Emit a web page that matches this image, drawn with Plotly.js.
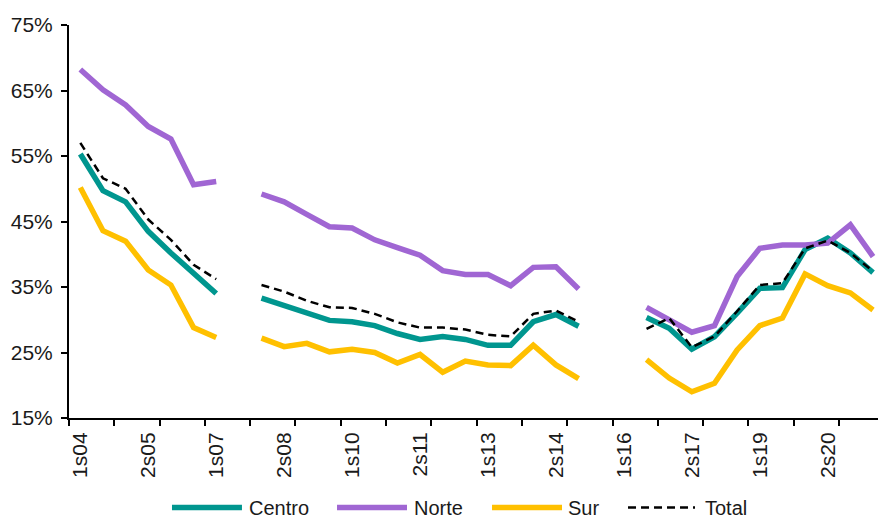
<!DOCTYPE html>
<html>
<head>
<meta charset="utf-8">
<script src="https://cdn.plot.ly/plotly-3.0.1.min.js"></script>
<style>
  html, body { margin: 0; padding: 0; background: #ffffff; }
  #chart { width: 878px; height: 519px; }
</style>
</head>
<body>
<div id="chart"></div>
<script>
const categories = ['1s04','2s04','1s05','2s05','1s06','2s06','1s07','2s07','1s08','2s08',
  '1s09','2s09','1s10','2s10','1s11','2s11','1s12','2s12','1s13','2s13',
  '1s14','2s14','1s15','2s15','1s16','2s16','1s17','2s17','1s18','2s18',
  '1s19','2s19','1s20','2s20','1s21','2s21'];

const tickLabels = ['1s04','2s05','1s07','2s08','1s10','2s11','1s13','2s14','1s16','2s17','1s19','2s20'];

const centro = [55.3, 49.7, 48.0, 43.5, 40.2, 37.0, 34.0, null, 33.3, 32.1,
  30.9, 29.9, 29.7, 29.1, 27.9, 27.0, 27.45, 27.0, 26.1, 26.1,
  29.7, 30.8, 29.0, null, null, 30.35, 28.7, 25.5, 27.4, 31.0,
  34.8, 34.9, 40.7, 42.45, 40.2, 37.2];

const norte = [68.2, 65.1, 62.8, 59.5, 57.6, 50.6, 51.1, null, 49.2, 48.0,
  46.1, 44.2, 44.0, 42.2, 41.0, 39.85, 37.5, 36.9, 36.9, 35.2,
  38.0, 38.1, 34.7, null, null, 31.9, 30.0, 28.1, 29.1, 36.6,
  40.9, 41.4, 41.4, 41.7, 44.5, 39.65];

const sur = [50.2, 43.6, 42.0, 37.6, 35.3, 28.8, 27.3, null, 27.2, 25.9,
  26.4, 25.1, 25.5, 25.0, 23.4, 24.7, 22.0, 23.7, 23.1, 23.0,
  26.1, 23.1, 21.0, null, null, 23.9, 21.1, 19.0, 20.3, 25.4,
  29.1, 30.25, 37.0, 35.2, 34.1, 31.5];

const total = [57.0, 51.6, 50.0, 45.3, 42.2, 38.4, 36.2, null, 35.3, 34.3,
  32.9, 31.9, 31.8, 30.9, 29.6, 28.8, 28.8, 28.5, 27.7, 27.45,
  30.9, 31.4, 29.7, null, null, 28.6, 30.25, 25.8, 27.45, 31.3,
  35.3, 35.6, 40.9, 42.1, 40.2, 37.4];

const seriesNames = ['Centro', 'Norte', 'Sur', 'Total'];
const seriesColors = ['#00968F', '#A066D3', '#FFC000', '#000000'];
const seriesValues = [centro, norte, sur, total];

const FONT = 'Arial, "Liberation Sans", sans-serif';
const FS = 21;

const traces = seriesValues.map((vals, i) => ({
  type: 'scatter',
  mode: 'lines',
  name: seriesNames[i],
  x: categories,
  y: vals,
  connectgaps: false,
  showlegend: false,
  line: i === 3
    ? { color: seriesColors[i], width: 2.5, dash: '8px,5px' }
    : { color: seriesColors[i], width: 5.5 },
  hoverinfo: 'skip'
}));

// boundary tick positions every two categories
const boundaries = [];
for (let b = -0.5; b < categories.length; b += 2) boundaries.push(b);

// manual legend (long sample lines like the original)
const legendX = [[0.1273, 0.2138, 0.2213], [0.3313, 0.4178, 0.4252], [0.5229, 0.6094, 0.6156], [0.6910, 0.7738, 0.7849]];
const legendY = -0.228;
const shapes = [];
const annotations = [];
seriesNames.forEach((n, i) => {
  shapes.push({
    type: 'line', xref: 'paper', yref: 'paper',
    x0: legendX[i][0], x1: legendX[i][1], y0: legendY, y1: legendY,
    line: i === 3 ? { color: seriesColors[i], width: 2.5, dash: '8px,5px' } : { color: seriesColors[i], width: 5.5 }
  });
  annotations.push({
    xref: 'paper', yref: 'paper', x: legendX[i][2], y: legendY,
    xanchor: 'left', yanchor: 'middle', showarrow: false,
    borderpad: 0,
    text: n, font: { family: FONT, size: 20, color: '#1a1a1a' }
  });
});

const layout = {
  width: 878,
  height: 519,
  margin: { l: 69, r: 0, t: 25, b: 101, pad: 0 },
  paper_bgcolor: '#ffffff',
  plot_bgcolor: '#ffffff',
  showlegend: false,
  font: { family: FONT, size: FS, color: '#1a1a1a' },
  xaxis: {
    type: 'category',
    range: [-0.5, 35.22],
    tickmode: 'array',
    tickvals: tickLabels,
    ticktext: tickLabels,
    tickangle: -90,
    ticks: '',
    ticklabelstandoff: 4,
    showgrid: false,
    zeroline: false,
    showline: true,
    linecolor: '#000000',
    linewidth: 2,
    tickfont: { family: FONT, size: FS, color: '#1a1a1a' },
    minor: { tickmode: 'array', tickvals: boundaries, ticks: 'outside', ticklen: 6, tickwidth: 2, tickcolor: '#000000', showgrid: false },
    fixedrange: true
  },
  yaxis: {
    range: [15, 75],
    tickmode: 'linear',
    tick0: 15,
    dtick: 10,
    ticksuffix: '%',
    ticks: 'outside',
    ticklen: 6,
    tickwidth: 2,
    tickcolor: '#000000',
    ticklabelstandoff: 4,
    showgrid: false,
    zeroline: false,
    showline: true,
    linecolor: '#000000',
    linewidth: 2,
    tickfont: { family: FONT, size: FS, color: '#1a1a1a' },
    fixedrange: true
  },
  shapes: shapes,
  annotations: annotations
};

Plotly.newPlot('chart', traces, layout, { displayModeBar: false, staticPlot: true });
</script>
</body>
</html>
